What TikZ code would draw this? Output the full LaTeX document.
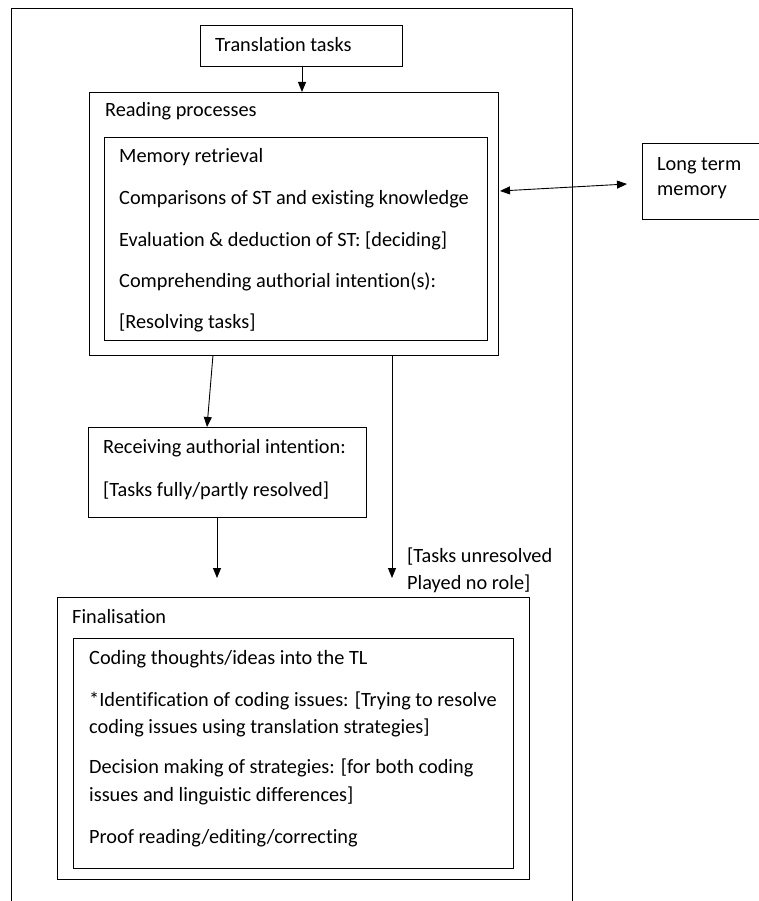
\documentclass[tikz,border=0pt]{standalone}
\usepackage{fontspec}
\setmainfont{Carlito}[Ligatures={NoCommon}]
\usetikzlibrary{arrows.meta}
\begin{document}
\begin{tikzpicture}[x=1pt,y=-1pt,
  box/.style={draw, line width=1.2pt, inner sep=0pt, anchor=north west},
  txt/.style={anchor=base west, inner sep=0pt, font=\fontsize{20.3}{24}\selectfont},
  arr/.style={line width=0.9pt, -{Triangle[length=10pt,width=8pt]}},
  darr/.style={line width=0.9pt, {Triangle[length=10pt,width=8pt]}-{Triangle[length=10pt,width=8pt]}}]
\useasboundingbox (0,0) rectangle (759,901);

% open outer frame running off the page bottom
\draw[line width=1pt] (11,901) -- (11,9) -- (572,9) -- (572,901);

% translation tasks
\node[box, minimum width=202pt, minimum height=41pt] (trans) at (200,25) {};
\node[txt] (transT) at (215,52) {Translation tasks};

% reading processes
\node[box, minimum width=409pt, minimum height=263pt] (readout) at (89,92) {};
\node[txt] (readT) at (105,117) {Reading processes};
\node[box, minimum width=383pt, minimum height=203pt] (readin) at (104,137) {};
\node[txt] (r1) at (119,163) {Memory retrieval};
\node[txt] (r2) at (119,204.5) {Comparisons of ST and existing knowledge};
\node[txt] (r3) at (119,246) {Evaluation \& deduction of ST: [deciding]};
\node[txt] (r4) at (119,287.5) {Comprehending authorial intention(s):};
\node[txt] (r5) at (119,328) {[Resolving tasks]};

% long term memory
\node[box, minimum width=130pt, minimum height=76pt] (ltm) at (642,143) {};
\node[txt] (ltmA) at (657,171) {Long term};
\node[txt] (ltmB) at (657,196) {memory};

% receiving authorial intention
\node[box, minimum width=278pt, minimum height=90pt] (recv) at (88,427) {};
\node[txt] (recvA) at (103,453) {Receiving authorial intention:};
\node[txt] (recvB) at (103,496) {[Tasks fully/partly resolved]};

% unresolved label
\node[txt] (unA) at (407,562) {[Tasks unresolved};
\node[txt] (unB) at (407,589) {Played no role]};

% finalisation
\node[box, minimum width=472pt, minimum height=282pt] (finout) at (57,597) {};
\node[txt] (finT) at (72,623) {Finalisation};
\node[box, minimum width=440pt, minimum height=230pt] (finin) at (73,638) {};
\node[txt] (f1) at (89,664) {Coding thoughts/ideas into the TL};
\node[txt] (f2) at (89,706) {*Identification of coding issues: [Trying to resolve};
\node[txt] (f3) at (89,733) {coding issues using translation strategies]};
\node[txt] (f4) at (89,773) {Decision making of strategies: [for both coding};
\node[txt] (f5) at (89,801) {issues and linguistic differences]};
\node[txt] (f6) at (89,843) {Proof reading/editing/correcting};

% connector end points
\coordinate (aStart) at (213,355);
\coordinate (bStart) at (392,355);
\coordinate (bEnd) at (392,578);
\coordinate (cEnd) at (217,578);
\coordinate (mL) at (500,191);
\coordinate (mR) at (627,184);

% connectors
\draw[arr] (trans.south -| 302,0) -- (readout.north -| 302,0);
\draw[arr] (aStart) -- (recv.north -| 207,0);
\draw[arr] (bStart) -- (bEnd);
\draw[arr] (recv.south -| cEnd) -- (cEnd);
\draw[darr] (mL) -- (mR);
\end{tikzpicture}
\end{document}
